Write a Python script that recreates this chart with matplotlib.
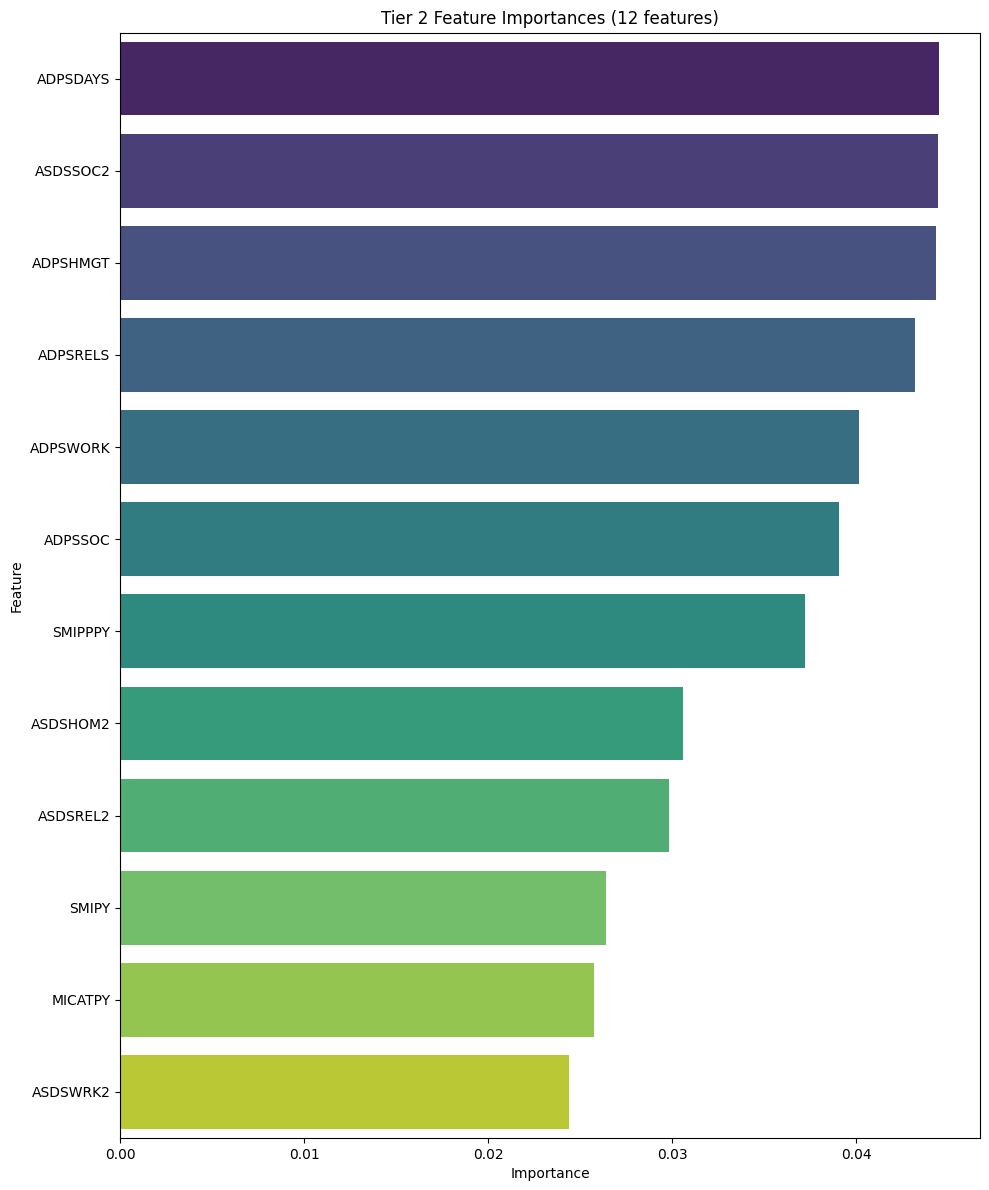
import matplotlib
matplotlib.use("Agg")
import matplotlib.pyplot as plt
import seaborn as sns
import pandas as pd

# feature importances
features = ["ADPSDAYS", "ASDSSOC2", "ADPSHMGT", "ADPSRELS", "ADPSWORK", "ADPSSOC",
            "SMIPPPY", "ASDSHOM2", "ASDSREL2", "SMIPY", "MICATPY", "ASDSWRK2"]
importances = [0.04451, 0.04446, 0.04435, 0.04321, 0.04016, 0.03908,
               0.03723, 0.03060, 0.02984, 0.02641, 0.02576, 0.02440]

df = pd.DataFrame({"Feature": features, "Importance": importances})

fig, ax = plt.subplots(figsize=(9.89, 11.9), dpi=100)
sns.barplot(data=df, x="Importance", y="Feature", hue="Feature",
            palette="viridis", legend=False, ax=ax)
ax.set_title(f"Tier 2 Feature Importances ({len(features)} features)")
fig.subplots_adjust(left=120 / 989, right=980 / 989, top=1 - 32.5 / 1190, bottom=1 - 1138 / 1190)
plt.savefig("out.png")
plt.close()
